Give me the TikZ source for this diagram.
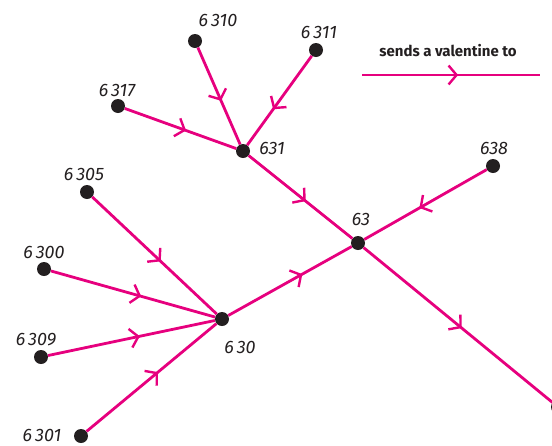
\documentclass[tikz,border=0pt]{standalone}
\usepackage{fontspec}
\setmainfont{Fira Sans}
\usetikzlibrary{arrows.meta,decorations.markings}
\definecolor{vmag}{HTML}{E6007E}
\definecolor{dotc}{HTML}{231F20}
\tikzset{
  dot/.style={circle,fill=dotc,inner sep=0pt,minimum size=14pt},
  lab/.style={font=\fontsize{18}{18}\selectfont\itshape,text=dotc,inner sep=0pt},
  sends/.style={draw=vmag,line width=2.8pt,
    postaction={decorate,decoration={markings,
      mark=at position #1 with {\arrow{Straight Barb[length=8pt,width=19pt,line width=2.4pt]}}}}},
  sends/.default=0.55
}
\begin{document}
\begin{tikzpicture}[x=1pt,y=-1pt]
\useasboundingbox (0,0) rectangle (552,445);
% dots
\node[dot] (n6310) at (195,41) {};
\node[dot] (n6311) at (316,50) {};
\node[dot] (n6317) at (118,106) {};
\node[dot] (n631) at (243,151) {};
\node[dot] (n638) at (493,166) {};
\node[dot] (n63) at (358,243) {};
\node[dot] (n6305) at (87,192) {};
\node[dot] (n6300) at (44,269) {};
\node[dot] (n630) at (222,319) {};
\node[dot] (n6309) at (41,357) {};
\node[dot] (n6301) at (81,436) {};
\node[dot] (nbr) at (558,407) {};
% labels
\node[lab] (l6310) at (218,20) {6\,310};
\node[lab] (l6311) at (319,32) {6\,311};
\node[lab] (l6317) at (117,90) {6\,317};
\node[lab] (l631) at (272,148) {631};
\node[lab] (l638) at (494,148) {638};
\node[lab] (l63) at (361,219) {63};
\node[lab] (l6305) at (84,174) {6\,305};
\node[lab] (l6300) at (44,252) {6\,300};
\node[lab] (l630) at (240,347) {6\,30};
\node[lab] (l6309) at (36,340) {6\,309};
\node[lab] (l6301) at (42,435) {6\,301};
% edges
\draw[sends] (n6310) -- (n631);
\draw[sends=0.6] (n6311) -- (n631);
\draw[sends] (n6317) -- (n631);
\draw[sends] (n631) -- (n63);
\draw[sends] (n638) -- (n63);
\draw[sends=0.52] (n63) -- (nbr);
\draw[sends] (n6305) -- (n630);
\draw[sends] (n6300) -- (n630);
\draw[sends] (n6309) -- (n630);
\draw[sends] (n6301) -- (n630);
\draw[sends=0.6] (n630) -- (n63);
% legend
\node[font=\fontsize{15}{15}\selectfont\bfseries,text=dotc,inner sep=0pt] (legtxt) at (448,51) {sends a valentine to};
\coordinate (la) at (362,75);
\coordinate (lb) at (540,75);
\draw[sends=0.54] (la) -- (lb);
\end{tikzpicture}
\end{document}
